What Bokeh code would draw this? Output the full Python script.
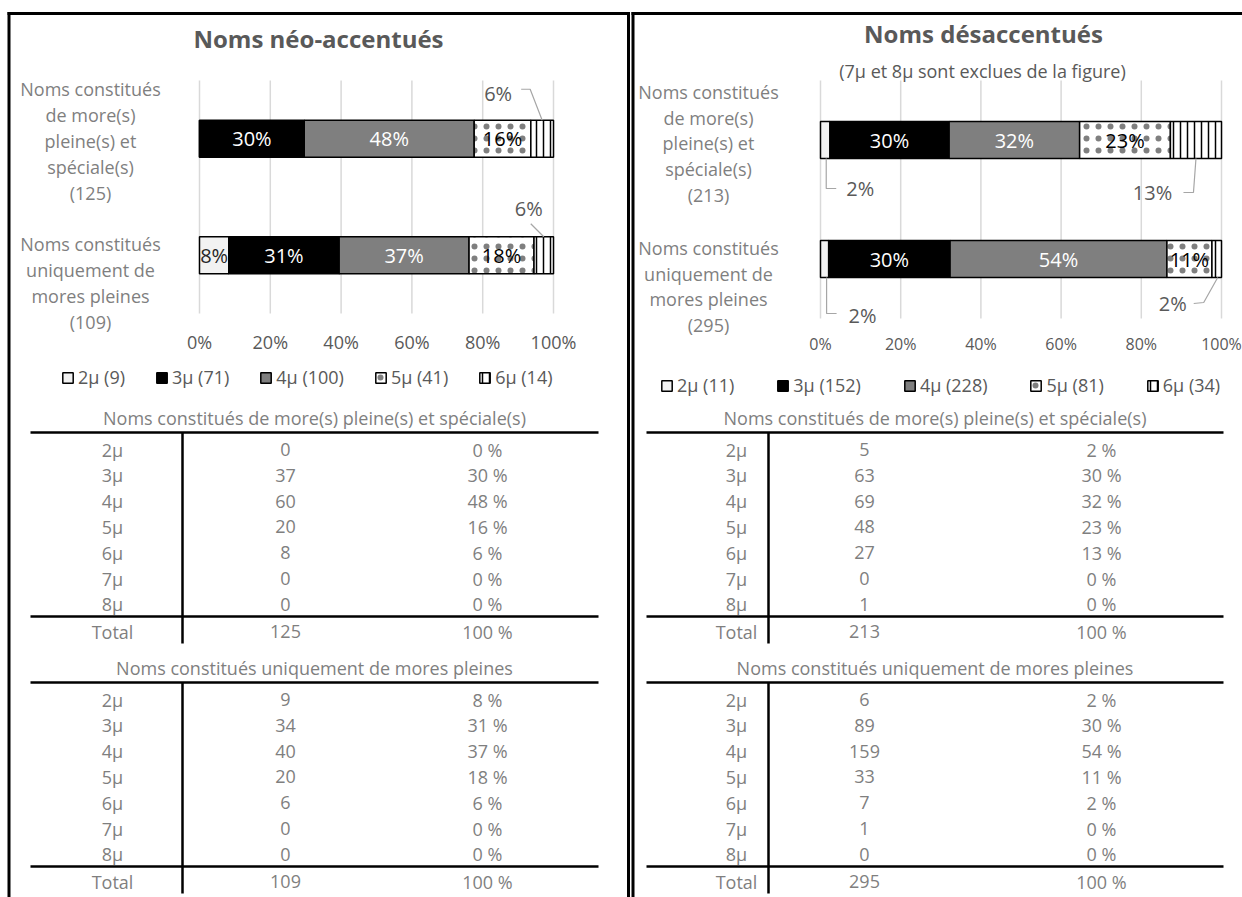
from bokeh.plotting import figure
from bokeh.models import Range1d, Legend, LegendItem
from bokeh.core.properties import value
from bokeh.embed import file_html
from bokeh.resources import INLINE

# ---------------- data ----------------
mora_rows = ["2μ", "3μ", "4μ", "5μ", "6μ", "7μ", "8μ"]
chart_series = ["2μ", "3μ", "4μ", "5μ", "6μ"]          # 7μ / 8μ are not plotted

neo_mixed = [0, 37, 60, 20, 8, 0, 0]      # néo-accentués, more(s) pleine(s) et spéciale(s)
neo_full = [9, 34, 40, 20, 6, 0, 0]       # néo-accentués, uniquement mores pleines
des_mixed = [5, 63, 69, 48, 27, 0, 1]     # désaccentués, more(s) pleine(s) et spéciale(s)
des_full = [6, 89, 159, 33, 7, 1, 0]      # désaccentués, uniquement mores pleines

neo_legend_labels = ["2μ (9)", "3μ (71)", "4μ (100)", "5μ (41)", "6μ (14)"]
des_legend_labels = ["2μ (11)", "3μ (152)", "4μ (228)", "5μ (81)", "6μ (34)"]

neo_category_labels = ["Noms constitués\nde more(s)\npleine(s) et\nspéciale(s)\n(125)",
                       "Noms constitués\nuniquement de\nmores pleines\n(109)"]
des_category_labels = ["Noms constitués\nde more(s)\npleine(s) et\nspéciale(s)\n(213)",
                       "Noms constitués\nuniquement de\nmores pleines\n(295)"]

pct_ticks = [0.0, 0.2, 0.4, 0.6, 0.8, 1.0]
pct_tick_labels = ["0%", "20%", "40%", "60%", "80%", "100%"]

neo_title = "Noms néo-accentués"
des_title = "Noms désaccentués"
des_subtitle = "(7μ et 8μ sont exclues de la figure)"
table_titles = ["Noms constitués de more(s) pleine(s) et spéciale(s)",
                "Noms constitués uniquement de mores pleines"]

# ---------------- styles ----------------
FONT = value("Open Sans")
W, H = 1242, 897
DARK = "#595959"
LIGHT = "#7f7f7f"

SERIES_FILL = ["#f2f2f2", "#000000", "#7f7f7f", "#ffffff", "#ffffff"]
SERIES_HATCH = [None, None, None, "dot", "vertical_line"]
SERIES_HATCH_SCALE = [12, 12, 12, 12, 7]
SERIES_HATCH_WEIGHT = [1, 1, 1, 0.5, 1.5]
SERIES_HATCH_ALPHA = [1, 1, 1, 0.5, 1]
SERIES_LABEL_COLOR = ["#262626", "#ffffff", "#ffffff", "#000000", "#000000"]

p = figure(width=W, height=H, output_backend="svg", toolbar_location=None,
           x_range=Range1d(0, W), y_range=Range1d(H, 0),
           x_axis_type=None, y_axis_type=None, min_border=0,
           outline_line_color=None, background_fill_color="white",
           border_fill_color="white")
p.xgrid.visible = False
p.ygrid.visible = False


def pct_int(c, tot):
    return int(c * 100.0 / tot + 0.5)


def draw_chart(key, bars, legend_labels, cat_labels, frame, bar_px, tick_y, tick_size,
               cat_x, cat_dy, outside, legend_pos, legend_spacing):
    fx0, fx1, fy0, fy1 = frame
    xppu = fx1 - fx0
    yppu = (fy1 - fy0) / len(bars)
    xr, yr = key + "_x", key + "_y"
    p.extra_x_ranges = {**p.extra_x_ranges, xr: Range1d(start=-fx0 / xppu, end=(W - fx0) / xppu)}
    p.extra_y_ranges = {**p.extra_y_ranges, yr: Range1d(start=(H - fy0) / yppu, end=-fy0 / yppu)}
    nb = len(bars)
    ycent = [i + 0.5 for i in range(nb)]

    # grid lines and tick labels
    p.segment(x0=pct_ticks, x1=pct_ticks, y0=[0] * len(pct_ticks), y1=[nb] * len(pct_ticks),
              x_range_name=xr, y_range_name=yr, line_color="#d9d9d9", line_width=1.5)
    p.text(x=pct_ticks, y=[tick_y] * len(pct_ticks), text=pct_tick_labels, x_range_name=xr,
           text_font=FONT, text_font_size=tick_size, text_color=DARK,
           text_align="center", text_baseline="middle")

    # stacked 100% bars
    ns = len(chart_series)
    shares = [[c / sum(b[:ns]) for c in b[:ns]] for b in bars]
    renderers = []
    for j in range(ns):
        left = [sum(s[:j]) for s in shares]
        right = [sum(s[:j + 1]) for s in shares]
        r = p.hbar(y=ycent, left=left, right=right, height=bar_px / yppu,
                   x_range_name=xr, y_range_name=yr,
                   fill_color=SERIES_FILL[j], line_color="black", line_width=1.5,
                   hatch_pattern=SERIES_HATCH[j], hatch_color="black",
                   hatch_scale=SERIES_HATCH_SCALE[j], hatch_weight=SERIES_HATCH_WEIGHT[j],
                   hatch_alpha=SERIES_HATCH_ALPHA[j])
        renderers.append(r)

    # data labels
    for i, b in enumerate(bars):
        tot = sum(b)
        for j in range(ns):
            if b[j] == 0:
                continue
            xc = sum(shares[i][:j]) + shares[i][j] / 2
            lab = "%d%%" % pct_int(b[j], tot)
            if (i, j) in outside:
                dx, dy, pts = outside[(i, j)]
                p.text(x=[xc], y=[ycent[i]], text=[lab], x_offset=dx, y_offset=dy,
                       x_range_name=xr, y_range_name=yr, text_font=FONT,
                       text_font_size="20px", text_color=DARK,
                       text_align="center", text_baseline="middle")
                p.line(x=[xc + px / xppu for px, py in pts], y=[ycent[i] + py / yppu for px, py in pts],
                       x_range_name=xr, y_range_name=yr, line_color="#a6a6a6", line_width=1.2)
            else:
                p.text(x=[xc], y=[ycent[i]], text=[lab], x_range_name=xr, y_range_name=yr,
                       text_font=FONT, text_font_size="20px", text_color=SERIES_LABEL_COLOR[j],
                       text_align="center", text_baseline="middle")

    # category labels
    for i, lab in enumerate(cat_labels):
        p.text(x=[cat_x], y=[ycent[i]], text=[lab], y_offset=cat_dy[i], y_range_name=yr,
               text_font=FONT, text_font_size="18px", text_color=LIGHT,
               text_align="center", text_baseline="middle", text_line_height=1.08)

    items = [LegendItem(label=value(legend_labels[j]), renderers=[renderers[j]]) for j in range(ns)]
    leg = Legend(items=items, orientation="horizontal", location=legend_pos,
                 spacing=legend_spacing, padding=0, margin=0, glyph_width=13, glyph_height=13,
                 label_standoff=4, label_text_font="Open Sans", label_text_font_size="18px",
                 label_text_color=DARK, border_line_color=None, background_fill_alpha=0)
    p.add_layout(leg)


def draw_table(y0, x0, x1, col_x, vline_x, title, counts):
    total = sum(counts)
    step = 25.8
    rows_y = [y0 + 32 + step * i for i in range(len(counts))]
    total_y = y0 + 214
    p.text(x=[(x0 + x1) / 2], y=[y0], text=[title], text_font=FONT, text_font_size="18px",
           text_color=LIGHT, text_align="center", text_baseline="middle")
    p.segment(x0=[x0, x0, vline_x], x1=[x1, x1, vline_x],
              y0=[y0 + 15, y0 + 199, y0 + 15], y1=[y0 + 15, y0 + 199, y0 + 226],
              line_color="black", line_width=2.5)
    cells = [
        (col_x[0], mora_rows + ["Total"]),
        (col_x[1], [str(c) for c in counts] + [str(total)]),
        (col_x[2], ["%d %%" % pct_int(c, total) for c in counts] + ["100 %"]),
    ]
    for cx, texts in cells:
        p.text(x=[cx] * len(texts), y=rows_y + [total_y], text=texts, text_font=FONT,
               text_font_size="18px", text_color=LIGHT, text_align="center",
               text_baseline="middle")


# panel frames (box borders)
p.segment(x0=[7, 8.5, 628, 631, 632.5], x1=[629.5, 8.5, 628, W, 632.5],
          y0=[13, 11.5, 11.5, 13, 11.5], y1=[13, H, H, 13, H], line_color="black", line_width=3)

# titles
p.text(x=[318], y=[38], text=[neo_title], text_font=FONT, text_font_size="24px",
       text_font_style="bold", text_color=DARK, text_align="center", text_baseline="middle")
p.text(x=[983], y=[33], text=[des_title], text_font=FONT, text_font_size="24px",
       text_font_style="bold", text_color=DARK, text_align="center", text_baseline="middle")
p.text(x=[982], y=[70], text=[des_subtitle], text_font=FONT, text_font_size="18px",
       text_color=DARK, text_align="center", text_baseline="middle")

neo_outside = {
    (0, 4): (-44, -45.5, [(-21, -49.5), (-12, -49.5), (0, -18.5)]),
    (1, 4): (-15, -46.5, [(-13, -31.5), (0, -18.5)]),
}
des_outside = {
    (0, 0): (35, 48.5, [(1, 18.5), (1, 48.5), (11, 48.5)]),
    (0, 4): (-43.5, 52.5, [(-12.5, 52.5), (-2.5, 52.5), (0, 18.5)]),
    (1, 0): (38, 56.5, [(2, 18.5), (2, 54.5), (12, 54.5)]),
    (1, 4): (-44, 44.5, [(-23, 44.5), (-13, 43.5), (1, 18.5)]),
}

draw_chart("neo", [neo_mixed, neo_full], neo_legend_labels, neo_category_labels,
           frame=(199, 553, 80, 313), bar_px=37, tick_y=341, tick_size="18px",
           cat_x=90, cat_dy=[2, 28], outside=neo_outside, legend_pos=(61, 508),
           legend_spacing=30)
draw_chart("des", [des_mixed, des_full], des_legend_labels, des_category_labels,
           frame=(820, 1221, 80, 318), bar_px=37, tick_y=343, tick_size="16px",
           cat_x=708, cat_dy=[3.5, 27.5], outside=des_outside, legend_pos=(660, 500),
           legend_spacing=42)

draw_table(417, 30, 598, [112, 285, 487], 182, table_titles[0], neo_mixed)
draw_table(667, 30, 598, [112, 285, 487], 182, table_titles[1], neo_full)
draw_table(417, 646, 1223, [736, 864, 1101], 768, table_titles[0], des_mixed)
draw_table(667, 646, 1223, [736, 864, 1101], 768, table_titles[1], des_full)

open("out.html", "w").write(file_html(p, INLINE))
